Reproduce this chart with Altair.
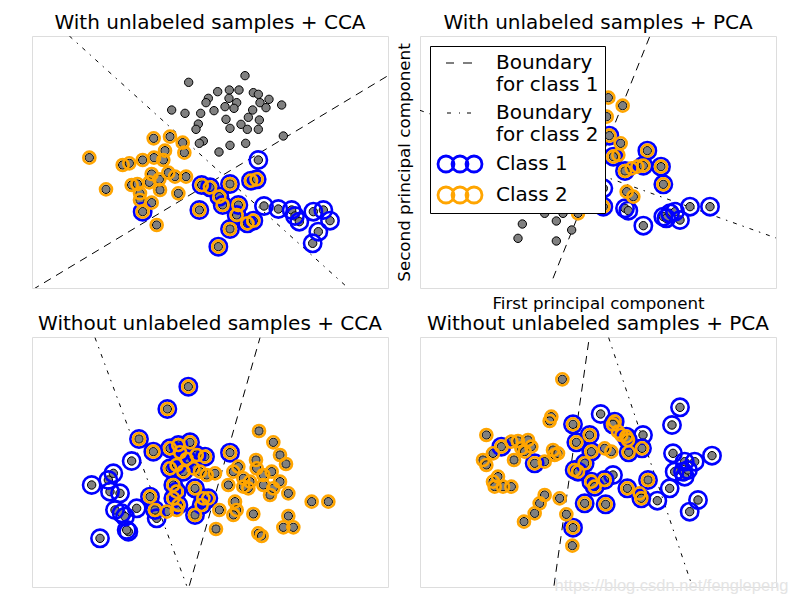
import altair as alt
import pandas as pd

FONT = "DejaVu Sans"

TITLES = [
    "With unlabeled samples + CCA",
    "With unlabeled samples + PCA",
    "Without unlabeled samples + CCA",
    "Without unlabeled samples + PCA",
]

# class code: 0 = unlabeled, 1 = class 1 only, 2 = class 2 only, 3 = both classes
# ---------- panel 1 : With unlabeled samples + CCA ----------
p1_x = [645, 476, 563, 598, 627, 670, 685, 535, 597, 717, 528, 620, 690, 585, 612, 668, 708, 755, 425, 465,
        512, 552, 655, 688, 588, 600, 505, 498, 633, 652, 685, 520, 508, 567, 600, 647, 760,
        178, 371, 420, 458, 463, 405, 372, 338, 278, 298, 400, 365, 415, 435, 468, 358, 388, 305, 322, 330,
        390, 445, 228, 365, 380, 330,
        685, 702, 745, 785, 795, 808, 850, 880, 900, 865, 848,
        338, 600, 663, 680, 515, 540, 568, 578, 508, 625, 620, 600, 652, 670, 565]
p1_y = [137, 157, 185, 180, 180, 188, 193, 205, 205, 208, 218, 218, 218, 230, 235, 240, 233, 225, 240, 250,
        250, 242, 262, 270, 268, 295, 282, 298, 283, 298, 298, 333, 340, 366, 346, 340, 318,
        383, 325, 320, 338, 368, 362, 383, 390, 405, 400, 390, 432, 428, 440, 440, 457, 448, 465, 462, 490,
        480, 490, 478, 518, 585, 510,
        390, 528, 537, 540, 558, 575, 545, 540, 572, 605, 640,
        545, 462, 452, 448, 465, 472, 500, 525, 540, 525, 555, 597, 580, 572, 650]
p1_c = [0] * 37 + [2] * 26 + [1] * 11 + [3] * 15

# ---------- panel 2 : With unlabeled samples + PCA ----------
p2_x = [313, 300, 415, 461, 415, 380, 435, 520, 540, 500,
        571, 614, 566, 608, 601, 641, 658, 626, 646, 480, 540, 530,
        556, 621, 631, 676, 736, 756, 771, 786, 816, 876, 745,
        574, 586, 688, 729, 736, 621, 676, 556]
p2_y = [582, 625, 633, 600, 573, 550, 550, 480, 420, 520,
        203, 227, 260, 340, 375, 415, 410, 485, 500, 550, 300, 380,
        475, 535, 542, 587, 560, 550, 545, 570, 530, 530, 565,
        317, 380, 362, 410, 463, 423, 407, 530]
p2_c = [0] * 10 + [2] * 12 + [1] * 11 + [3] * 8

# ---------- panel 3 : Without unlabeled samples + CCA ----------
p3_x = [305, 250, 235, 185, 240, 270, 320, 255, 275, 285, 295, 290, 210, 380,
        475, 412, 327, 370, 600, 360, 375, 495, 495, 420, 445, 480, 450, 470, 500, 525, 420, 440, 460, 430,
        440, 430, 445, 520, 535, 515,
        490, 510, 530, 555, 410, 440, 687, 730, 750, 768, 678, 625, 610, 595, 640, 655, 700, 725, 750, 720,
        775, 845, 895, 568, 615, 620, 610, 670, 558, 775, 760, 790, 685, 695, 660, 680, 700, 730, 640]
p3_y = [378, 415, 435, 450, 470, 475, 520, 525, 535, 545, 590, 585, 610, 550,
        155, 222, 312, 350, 353, 485, 525, 460, 540, 340, 330, 322, 352, 372, 360, 365, 400, 390, 410, 450,
        470, 490, 510, 490, 490, 510,
        400, 410, 420, 415, 530, 525, 288, 322, 360, 387, 375, 395, 410, 450, 430, 460, 420, 410, 440, 480,
        475, 500, 500, 525, 500, 525, 540, 537, 582, 543, 577, 577, 595, 603, 440, 400, 450, 460, 455]
p3_c = [1] * 14 + [3] * 26 + [2] * 39

# ---------- panel 4 : Without unlabeled samples + PCA ----------
p4_x = [433, 400, 395, 205, 225, 195, 205, 288, 280, 300, 330, 340, 310, 320, 380, 405, 410, 420, 225, 240,
        230, 255, 280, 380, 365, 350, 318, 425, 445, 463, 580, 560, 665, 600, 610,
        465, 250, 350, 475, 515, 590, 585, 625, 630, 672, 632, 520, 500, 470, 480, 520, 530, 560, 500, 563,
        628, 670, 690, 465,
        548, 675, 585, 718, 755, 786, 762, 765, 800, 830, 770, 795, 800, 810, 882, 840, 815]
p4_y = [133, 245, 258, 300, 355, 375, 390, 375, 320, 318, 315, 335, 340, 350, 380, 345, 360, 355, 440, 425,
        455, 455, 455, 480, 505, 535, 560, 490, 538, 632, 350, 340, 475, 290, 300,
        268, 335, 385, 322, 300, 260, 268, 305, 315, 340, 352, 350, 385, 405, 410, 440, 455, 435, 505, 508,
        460, 490, 435, 578,
        237, 300, 420, 497, 460, 217, 270, 355, 380, 380, 410, 410, 425, 405, 362, 495, 530]
p4_c = [2] * 35 + [3] * 24 + [1] * 17

# ---------- decision boundaries (two end points each) ----------
b_dash_x = [[6, 1074], [695, 405], [690, 478], [512, 408]]
b_dash_y = [[780, 137], [20, 745], [8, 752], [20, 752]]
b_dot_x = [[118, 952], [6, 1074], [195, 470], [572, 822]]
b_dot_y = [[18, 772], [241, 624], [8, 752], [8, 752]]

# legend
LEG_ENTRIES = ["Boundary|for class 1", "Boundary|for class 2", "Class 1", "Class 2"]
LEG_COLORS = ["black", "black", "blue", "orange"]

PTS = [(p1_x, p1_y, p1_c), (p2_x, p2_y, p2_c), (p3_x, p3_y, p3_c), (p4_x, p4_y, p4_c)]
YDOM = [[18, 774], [18, 774], [6, 756], [6, 756]]
HEIGHTS = [252, 252, 250, 250]


def circle_path(cx, r):
    return f"M{cx - r:.2f},0A{r},{r} 0 1,0 {cx + r:.2f},0A{r},{r} 0 1,0 {cx - r:.2f},0"


# symbol unit = 10 px (symbolSize 400); rings drawn several times to look thick
three_circles = "".join(circle_path(c, r) for c in (-0.1, 1.3, 2.7) for r in (0.72, 0.8, 0.88))
LEG_SHAPES = [
    "M-0.1,0L0.7,0M1.6,0L2.5,0",
    "M0,0L0.4,0M1.2,0L1.3,0M2.0,0L2.4,0",
    three_circles,
    three_circles,
]


def panel(i):
    xs, ys, cs = PTS[i]
    df = pd.DataFrame({"x": xs, "y": ys, "c": cs})
    if i == 1:
        xax = alt.Axis(title="First principal component", labels=False, ticks=False, domain=False,
                       grid=False, titleFont=FONT, titleFontSize=16.7, titleFontWeight="normal",
                       titleColor="black", titlePadding=7)
        yax = alt.Axis(title="Second principal component", labels=False, ticks=False, domain=False,
                       grid=False, titleFont=FONT, titleFontSize=16.7, titleFontWeight="normal",
                       titleColor="black", titlePadding=7)
    else:
        xax = None
        yax = None
    X = alt.X("x:Q", scale=alt.Scale(domain=[6, 1074], nice=False, zero=False), axis=xax)
    Y = alt.Y("y:Q", scale=alt.Scale(domain=YDOM[i], nice=False, zero=False, reverse=True), axis=yax)

    ldf = pd.DataFrame({"x": b_dash_x[i] + b_dot_x[i], "y": b_dash_y[i] + b_dot_y[i],
                        "kind": ["dash", "dash", "dot", "dot"]})
    dash = alt.Chart(ldf).transform_filter("datum.kind == 'dash'").mark_line(
        clip=True, color="black", strokeWidth=1, strokeDash=[8, 6]).encode(x=X, y=Y)
    dot = alt.Chart(ldf).transform_filter("datum.kind == 'dot'").mark_line(
        clip=True, color="black", strokeWidth=1, strokeDash=[4, 6, 1.5, 6]).encode(x=X, y=Y)

    base = alt.Chart(df)
    gray = base.mark_point(filled=True, fill="gray", stroke="black", strokeWidth=1, opacity=1,
                           size=70, shape="circle", clip=True).encode(x=X, y=Y)
    blue = base.transform_filter("datum.c == 1 || datum.c == 3").mark_point(
        filled=False, stroke="blue", strokeWidth=2.6, opacity=1, size=300, shape="circle",
        clip=True).encode(x=X, y=Y)
    orange = base.transform_filter("datum.c == 2 || datum.c == 3").mark_point(
        filled=False, stroke="orange", strokeWidth=2.6, opacity=1, size=145, shape="circle",
        clip=True).encode(x=X, y=Y)

    layers = [dash, dot, gray, blue, orange]

    if i == 1:
        legdf = pd.DataFrame({"entry": LEG_ENTRIES, "x": [-5000] * 4, "y": [-5000] * 4})
        leg = alt.Legend(title=None, orient="top-left", offset=10, padding=6, strokeColor="black",
                         fillColor="white", labelFontSize=20, labelFont=FONT, labelColor="black",
                         symbolSize=400, labelExpr="split(datum.label, '|')", rowPadding=7,
                         labelOffset=38, symbolOpacity=1, symbolStrokeWidth=1.2, zindex=2,
                         labelLimit=300, cornerRadius=0)
        legend_layer = alt.Chart(legdf).mark_point(filled=False, clip=True, opacity=1).encode(
            x=X, y=Y,
            shape=alt.Shape("entry:N", scale=alt.Scale(domain=LEG_ENTRIES, range=LEG_SHAPES), legend=leg),
            stroke=alt.Stroke("entry:N", scale=alt.Scale(domain=LEG_ENTRIES, range=LEG_COLORS), legend=leg),
        )
        layers.append(legend_layer)

    return alt.layer(*layers).properties(
        width=356, height=HEIGHTS[i],
        title=alt.TitleParams(TITLES[i], fontSize=20, font=FONT, fontWeight="normal", color="black",
                              offset=3, anchor="middle"))


chart = alt.concat(panel(0), panel(1), panel(2), panel(3), columns=2,
                   spacing={"row": 49, "column": 32}, bounds="flush").resolve_scale(
    shape="independent", stroke="independent").resolve_legend(
    shape="independent", stroke="independent").properties(
    padding={"left": 23, "top": 4, "right": 1, "bottom": 0},
    title=alt.TitleParams("https://blog.csdn.net/fenglepeng", orient="bottom", anchor="end",
                          color="#e4e4e4", fontSize=16.5, font="Liberation Sans", fontWeight="normal",
                          offset=-10, dx=12),
).configure_view(stroke="black", strokeWidth=1).configure(background="white")

chart.save("out.html", embed_options={"renderer": "svg", "actions": False})
